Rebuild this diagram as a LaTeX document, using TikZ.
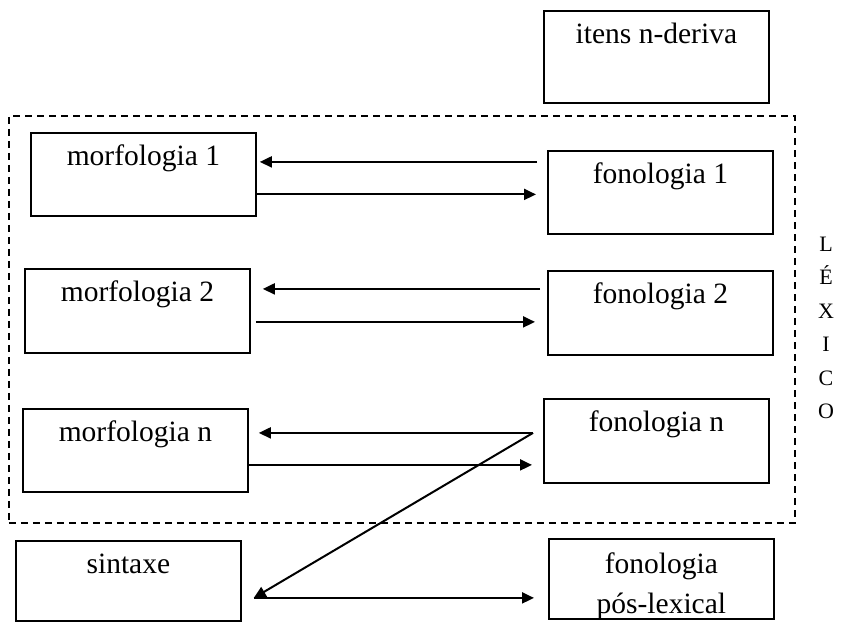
\documentclass[tikz,border=0pt]{standalone}
\usepackage{fontspec}
\setmainfont{Liberation Serif}
\usetikzlibrary{arrows.meta}

\tikzset{
  box/.style={draw, line width=1.8pt, inner sep=0pt, anchor=north west,
    minimum width=225pt, font=\fontsize{29.5}{40}\selectfont},
  tbox/.style={box, text height=33pt, text depth=50pt},
  arr/.style={line width=2pt, -{Triangle[length=12pt,width=11pt]}},
}

\begin{document}
\begin{tikzpicture}[x=1pt,y=-1pt]
    \useasboundingbox (0,0) rectangle (843,627);
    % lexicon frame
    \node[draw, line width=1.8pt, dash pattern=on 7pt off 5pt, inner sep=0pt,
      anchor=north west, minimum width=786pt, minimum height=407pt] (frame) at (8,115) {};
    \node[font=\fontsize{22}{33.5}\selectfont, align=center] (lex) at (826,328) {L\\É\\X\\I\\C\\O};
    % boxes
    \node[tbox, minimum height=92pt, text depth=59pt] (itens) at (543,10) {itens n-deriva};
    \node[tbox] (m1) at (30,132) {morfologia 1};
    \node[tbox] (f1) at (547,150) {fonologia 1};
    \node[tbox, text depth=51pt] (m2) at (24,268) {morfologia 2};
    \node[tbox, text depth=51pt] (f2) at (547,270) {fonologia 2};
    \node[tbox] (m3) at (22,408) {morfologia n};
    \node[tbox, text depth=51pt] (f3) at (543,398) {fonologia n};
    \node[tbox, text depth=47pt] (sin) at (15,540) {sintaxe};
    \node[box, minimum height=80pt, align=center, text height=75pt, text depth=5pt] (fpl) at (548,538) {fonologia\\pós-lexical};
    % arrow ends
    \coordinate (a1) at ([yshift=12.5pt]m1.east);
    \coordinate (b1) at ([yshift=-20pt]m1.east);
    \coordinate (a2) at ([yshift=22pt]m2.east);
    \coordinate (b2) at ([yshift=-11pt]m2.east);
    \coordinate (n1) at ([xshift=-10pt,yshift=8pt]f3.west);
    \coordinate (b3) at ([yshift=-14.5pt]m3.east);
    \coordinate (s1) at ([xshift=12pt,yshift=-17pt]sin.east);
    % arrows
    \draw[arr, shorten <=10pt, shorten >=3pt] (a1 -| f1.west) -- (a1);
    \draw[arr, shorten >=11pt] (b1) -- (b1 -| f1.west);
    \draw[arr, shorten <=7pt, shorten >=12pt] (a2 -| f2.west) -- (a2);
    \draw[arr, shorten <=5pt, shorten >=12pt] (b2) -- (b2 -| f2.west);
    \draw[arr, shorten >=10pt] (n1) -- (n1 -| m3.east);
    \draw[arr, shorten >=11pt] (b3) -- (b3 -| f3.west);
    \draw[arr] (n1) -- (s1);
    \draw[arr, shorten >=14pt] (s1) -- (s1 -| fpl.west);
\end{tikzpicture}
\end{document}
